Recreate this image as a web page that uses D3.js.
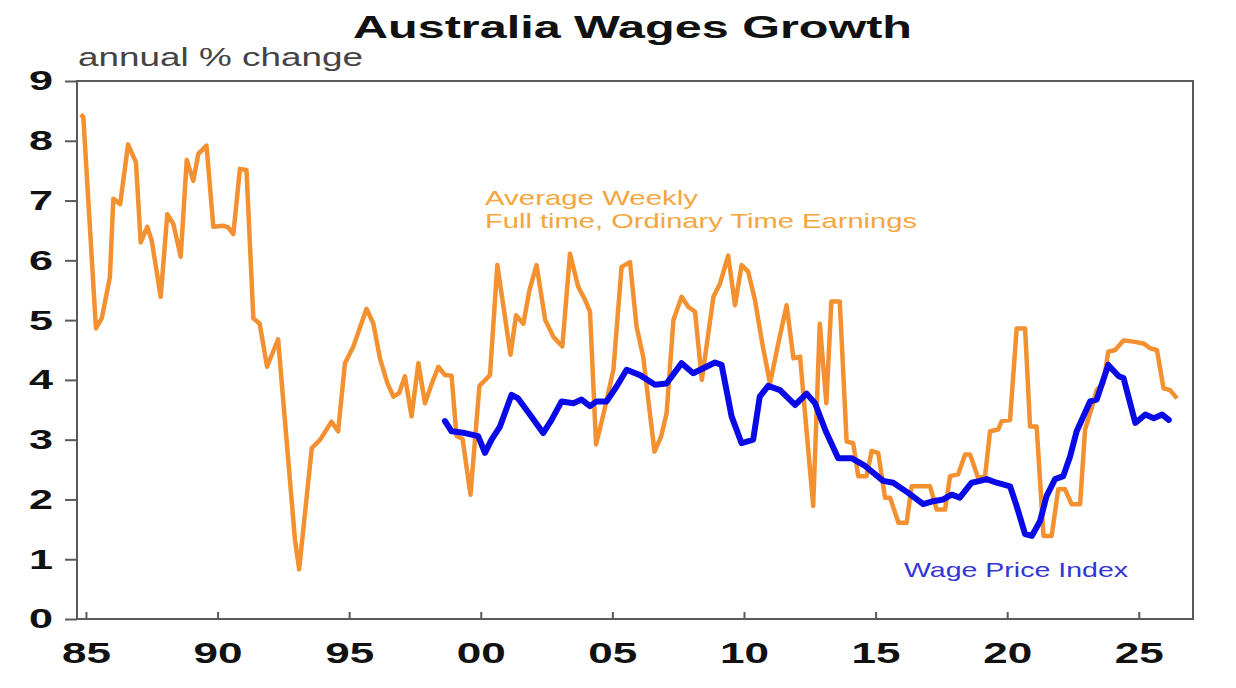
<!DOCTYPE html>
<html>
<head>
<meta charset="utf-8">
<script src="https://cdn.jsdelivr.net/npm/d3@7"></script>
<style>
  body { margin: 0; background: #fff; }
  svg { display: block; font-family: "Liberation Sans", Arial, sans-serif; }
</style>
</head>
<body>
<svg id="chart" width="1236" height="688"></svg>
<script>
// Average weekly full time ordinary time earnings, annual % change
const awoteYears = [1984.8, 1984.9, 1985.38, 1985.6, 1985.91, 1986.04, 1986.3, 1986.6, 1986.9, 1987.08,
  1987.33, 1987.5, 1987.84, 1988.09, 1988.32, 1988.6, 1988.83, 1989.08, 1989.27, 1989.58,
  1989.84, 1990.22, 1990.4, 1990.6, 1990.85, 1991.1, 1991.36, 1991.6, 1991.88, 1992.3,
  1992.94, 1993.1, 1993.58, 1993.9, 1994.33, 1994.58, 1994.84, 1995.16, 1995.66, 1995.92,
  1996.17, 1996.45, 1996.68, 1996.9, 1997.12, 1997.37, 1997.63, 1997.88, 1998.15, 1998.39,
  1998.64, 1998.89, 1999.08, 1999.31, 1999.61, 1999.95, 2000.35, 2000.63, 2001.13, 2001.34,
  2001.62, 2001.85, 2002.12, 2002.45, 2002.76, 2003.1, 2003.39, 2003.7, 2003.95, 2004.15,
  2004.38, 2004.7, 2005.04, 2005.35, 2005.67, 2005.92, 2006.17, 2006.6, 2006.85, 2007.06,
  2007.32, 2007.63, 2007.89, 2008.14, 2008.4, 2008.84, 2009.09, 2009.4, 2009.66, 2009.91,
  2010.16, 2010.42, 2010.7, 2010.99, 2011.3, 2011.62, 2011.88, 2012.13, 2012.63, 2012.88,
  2013.13, 2013.32, 2013.64, 2013.9, 2014.15, 2014.34, 2014.66, 2014.85, 2015.1, 2015.36,
  2015.55, 2015.87, 2016.18, 2016.37, 2017.07, 2017.32, 2017.64, 2017.83, 2018.14, 2018.4,
  2018.59, 2018.9, 2019.16, 2019.35, 2019.66, 2019.79, 2020.11, 2020.36, 2020.68, 2020.87,
  2021.12, 2021.38, 2021.69, 2021.94, 2022.2, 2022.45, 2022.77, 2022.96, 2023.21, 2023.4,
  2023.65, 2023.84, 2024.1, 2024.42, 2024.8, 2025.18, 2025.43, 2025.69, 2025.94, 2026.19,
  2026.45];
const awoteValues = [8.44, 8.4, 4.86, 5.03, 5.72, 7.03, 6.94, 7.94, 7.64, 6.3,
  6.56, 6.33, 5.39, 6.77, 6.61, 6.06, 7.68, 7.33, 7.78, 7.92,
  6.56, 6.58, 6.55, 6.44, 7.53, 7.51, 5.03, 4.94, 4.22, 4.68,
  1.33, 0.83, 2.86, 3.0, 3.3, 3.14, 4.28, 4.56, 5.19, 4.94,
  4.36, 3.95, 3.72, 3.78, 4.06, 3.39, 4.28, 3.61, 3.95, 4.22,
  4.08, 4.07, 3.06, 3.01, 2.08, 3.9, 4.08, 5.92, 4.42, 5.08,
  4.94, 5.5, 5.92, 5.0, 4.72, 4.56, 6.11, 5.56, 5.35, 5.14,
  2.92, 3.5, 4.17, 5.89, 5.97, 4.89, 4.39, 2.8, 3.05, 3.44,
  5.0, 5.39, 5.22, 5.14, 4.0, 5.39, 5.61, 6.08, 5.25, 5.92,
  5.81, 5.33, 4.6, 3.94, 4.6, 5.25, 4.36, 4.39, 1.89, 4.94,
  3.61, 5.31, 5.31, 2.97, 2.94, 2.39, 2.39, 2.81, 2.78, 2.03,
  2.03, 1.61, 1.61, 2.22, 2.22, 1.83, 1.83, 2.39, 2.42, 2.75,
  2.75, 2.36, 2.39, 3.14, 3.17, 3.31, 3.33, 4.86, 4.86, 3.22,
  3.22, 1.39, 1.39, 2.17, 2.17, 1.92, 1.92, 3.17, 3.53, 3.83,
  3.94, 4.47, 4.5, 4.66, 4.64, 4.61, 4.53, 4.5, 3.86, 3.83,
  3.69];

// Wage price index, annual % change
const wpiYears = [1998.64, 1998.89, 1999.4, 1999.9, 2000.16, 2000.41, 2000.73, 2001.17, 2001.42, 2001.9,
  2002.37, 2002.69, 2003.07, 2003.52, 2003.83, 2004.15, 2004.4, 2004.78, 2005.16, 2005.54,
  2006.05, 2006.62, 2007.06, 2007.63, 2008.07, 2008.9, 2009.15, 2009.53, 2009.91, 2010.35,
  2010.6, 2010.92, 2011.37, 2011.94, 2012.38, 2012.7, 2013.1, 2013.58, 2014.09, 2014.6,
  2015.29, 2015.67, 2016.24, 2016.81, 2017.19, 2017.57, 2017.89, 2018.2, 2018.65, 2018.97,
  2019.22, 2019.6, 2020.11, 2020.36, 2020.68, 2020.94, 2021.25, 2021.5, 2021.82, 2022.13,
  2022.39, 2022.64, 2023.15, 2023.4, 2023.84, 2024.24, 2024.42, 2024.87, 2025.25, 2025.57,
  2025.89, 2026.14];
const wpiValues = [3.31, 3.14, 3.11, 3.06, 2.78, 3.0, 3.22, 3.75, 3.69, 3.4,
  3.11, 3.33, 3.64, 3.61, 3.67, 3.56, 3.64, 3.64, 3.89, 4.17,
  4.08, 3.92, 3.94, 4.28, 4.11, 4.29, 4.25, 3.39, 2.94, 3.0,
  3.72, 3.9, 3.83, 3.58, 3.77, 3.61, 3.15, 2.69, 2.69, 2.56,
  2.31, 2.28, 2.11, 1.92, 1.97, 2.0, 2.08, 2.03, 2.28, 2.31,
  2.34, 2.28, 2.22, 1.89, 1.42, 1.39, 1.64, 2.06, 2.34, 2.39,
  2.72, 3.14, 3.64, 3.67, 4.25, 4.06, 4.03, 3.28, 3.42, 3.36,
  3.42, 3.33];

const yTicks = [0, 1, 2, 3, 4, 5, 6, 7, 8, 9];
const xTicks = [1985, 1990, 1995, 2000, 2005, 2010, 2015, 2020, 2025];
const xTickLabels = ['85', '90', '95', '00', '05', '10', '15', '20', '25'];

const svg = d3.select('#chart');
const plotLeft = 77, plotRight = 1193, plotTop = 81, plotBottom = 619;

const xScale = d3.scaleLinear().domain([1984.66, 2027.06]).range([plotLeft, plotRight]);
const yScale = d3.scaleLinear().domain([0, 9]).range([plotBottom, plotTop]);

svg.append('rect').attr('width', 1236).attr('height', 688).attr('fill', '#fff');

// text glyphs are stretched sideways like the source picture
const stretchText = (x, y, txt, size, len, weight, fill) => svg.append('text')
    .attr('x', x).attr('y', y)
    .attr('font-size', size)
    .attr('font-weight', weight)
    .attr('fill', fill)
    .attr('textLength', len)
    .attr('lengthAdjust', 'spacingAndGlyphs')
    .text(txt);

stretchText(353, 38, 'Australia Wages Growth', 32, 559, 'bold', '#111');
stretchText(78, 66, 'annual % change', 26, 285, 'normal', '#444');

svg.append('defs').append('clipPath').attr('id', 'plot-clip')
  .append('rect')
    .attr('x', plotLeft).attr('y', plotTop)
    .attr('width', plotRight - plotLeft).attr('height', plotBottom - plotTop);

// frame
svg.append('rect')
    .attr('x', plotLeft).attr('y', plotTop)
    .attr('width', plotRight - plotLeft).attr('height', plotBottom - plotTop)
    .attr('fill', 'none')
    .attr('stroke', '#5a5a5a')
    .attr('stroke-width', 2);

const yAxis = d3.axisLeft(yScale)
    .tickValues(yTicks)
    .tickSize(12)
    .tickPadding(12)
    .tickFormat(d3.format('d'));

const yAxisG = svg.append('g')
    .attr('transform', `translate(${plotLeft},0)`)
    .call(yAxis);
yAxisG.select('.domain').remove();
yAxisG.selectAll('.tick line').attr('stroke', '#5a5a5a').attr('stroke-width', 2);
yAxisG.selectAll('.tick text')
    .attr('font-family', '"Liberation Sans", Arial, sans-serif')
    .attr('font-size', 28)
    .attr('font-weight', 'bold')
    .attr('fill', '#111')
    .attr('textLength', 24)
    .attr('lengthAdjust', 'spacingAndGlyphs');

const xAxis = d3.axisBottom(xScale)
    .tickValues(xTicks)
    .tickSize(-7)
    .tickPadding(23)
    .tickFormat((d, i) => xTickLabels[i]);

const xAxisG = svg.append('g')
    .attr('transform', `translate(0,${plotBottom})`)
    .call(xAxis);
xAxisG.select('.domain').remove();
xAxisG.selectAll('.tick line').attr('stroke', '#5a5a5a').attr('stroke-width', 2);
xAxisG.selectAll('.tick text')
    .attr('font-family', '"Liberation Sans", Arial, sans-serif')
    .attr('font-size', 29)
    .attr('font-weight', 'bold')
    .attr('fill', '#111')
    .attr('textLength', 49)
    .attr('lengthAdjust', 'spacingAndGlyphs');

const line = d3.line()
    .x(d => xScale(d[0]))
    .y(d => yScale(d[1]));

const plot = svg.append('g').attr('clip-path', 'url(#plot-clip)');

plot.append('path')
    .datum(d3.zip(awoteYears, awoteValues))
    .attr('fill', 'none')
    .attr('stroke', '#f39030')
    .attr('stroke-width', 4.5)
    .attr('stroke-linejoin', 'round')
    .attr('d', line);

plot.append('path')
    .datum(d3.zip(wpiYears, wpiValues))
    .attr('fill', 'none')
    .attr('stroke', '#0a0ae8')
    .attr('stroke-width', 6)
    .attr('stroke-linejoin', 'round')
    .attr('stroke-linecap', 'round')
    .attr('d', line);

// series labels
stretchText(485, 205, 'Average Weekly', 21, 213, 'normal', '#f4a63c');
stretchText(485, 228, 'Full time, Ordinary Time Earnings', 21, 432, 'normal', '#f4a63c');
stretchText(904, 577, 'Wage Price Index', 21, 224, 'normal', '#3434d8');
</script>
</body>
</html>
